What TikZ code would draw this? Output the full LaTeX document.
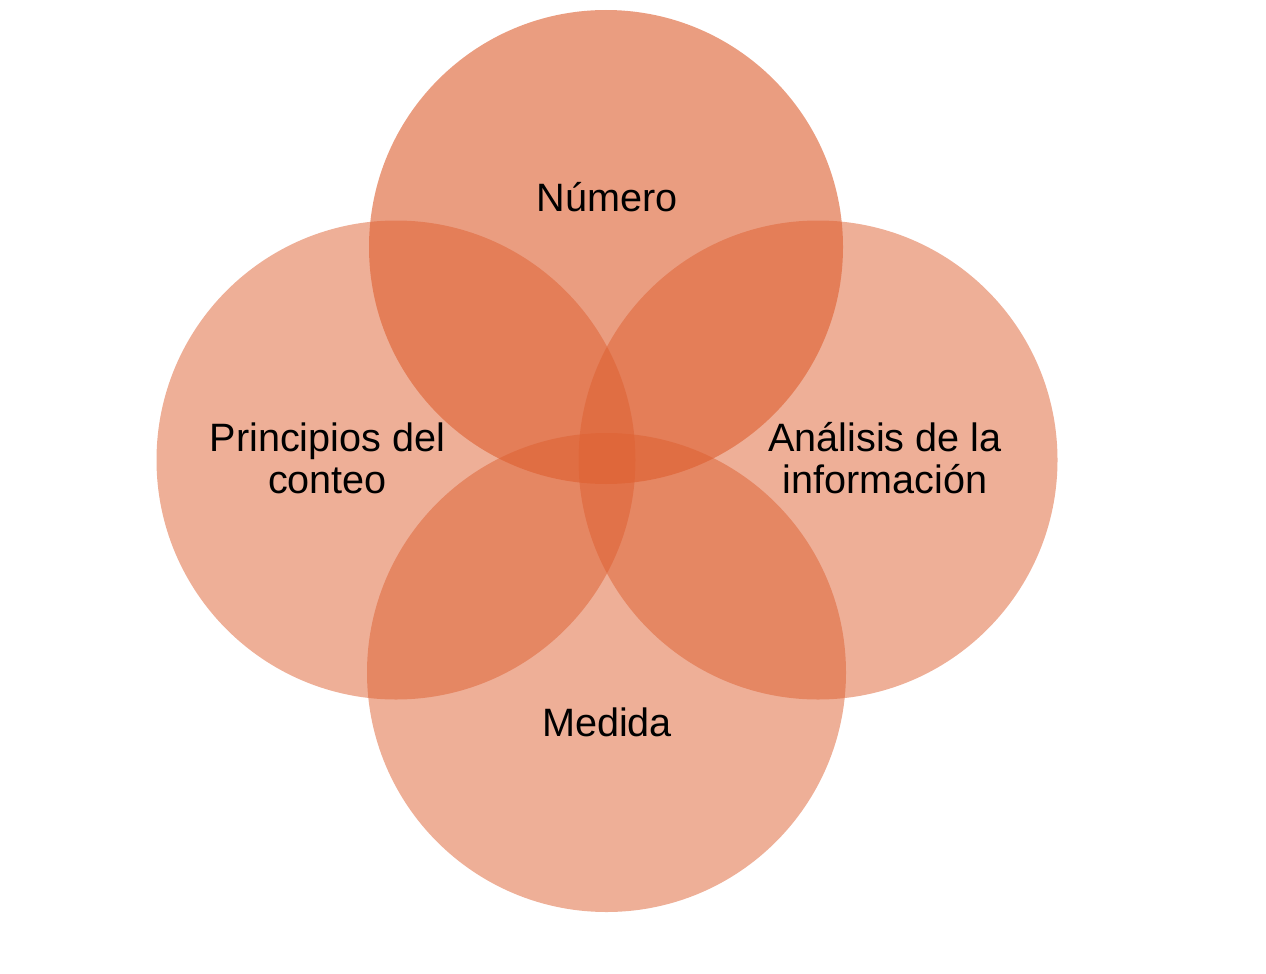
\documentclass[tikz,border=0pt]{standalone}
\usepackage{fontspec}
\setmainfont{Liberation Sans}
\definecolor{venn}{RGB}{221,95,48}
\begin{document}
\begin{tikzpicture}[x=1pt,y=-1pt,
  vcircle/.style={circle, fill=venn, fill opacity=0.5, draw=none, minimum size=479pt, inner sep=0pt},
  vtop/.style={vcircle, fill opacity=0.61},
  vlabel/.style={anchor=base, inner sep=0pt, text=black, font=\fontsize{39.6}{42}\selectfont}]
  \useasboundingbox (0,0) rectangle (1266,974);
  \node[vcircle] (left) at (396,460) {};
  \node[vcircle] (right) at (818,460) {};
  \node[vcircle] (bottom) at (606.5,672.5) {};
  \node[vtop, minimum size=474pt] (top) at (606,247) {};
  \node[vlabel] (tnum) at (607,211) {Número};
  \node[vlabel] (tmed) at (607,736) {Medida};
  \node[vlabel] (tpri) at (327.5,451) {\begin{tabular}[t]{@{}c@{}}Principios del\\conteo\end{tabular}};
  \node[vlabel] (tana) at (885,451) {\begin{tabular}[t]{@{}c@{}}Análisis de la\\información\end{tabular}};
\end{tikzpicture}
\end{document}
